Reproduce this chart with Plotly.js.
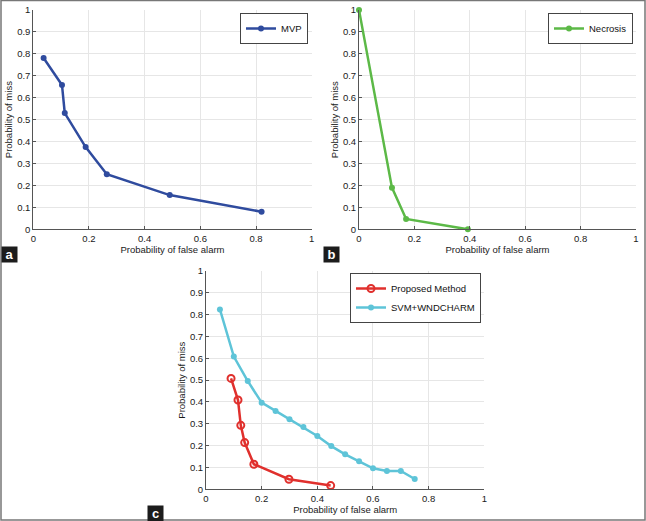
<!DOCTYPE html>
<html>
<head>
<meta charset="utf-8">
<script src="https://cdn.plot.ly/plotly-3.0.1.min.js"></script>
<style>html,body{margin:0;padding:0;background:#fff;}#chart{width:646px;height:521px;}</style>
</head>
<body>
<div id="chart"></div>
<script>
// Panel a: MVP
const mvpFalseAlarm = [0.037, 0.103, 0.113, 0.188, 0.264, 0.49, 0.82];
const mvpMiss       = [0.781, 0.658, 0.530, 0.375, 0.251, 0.156, 0.080];
// Panel b: Necrosis
const necFalseAlarm = [0.0, 0.119, 0.17, 0.393];
const necMiss       = [1.0, 0.19, 0.047, 0.0];
// Panel c: Proposed Method vs SVM+WNDCHARM
const propFalseAlarm = [0.09, 0.115, 0.125, 0.139, 0.172, 0.298, 0.448];
const propMiss       = [0.508, 0.409, 0.293, 0.214, 0.115, 0.046, 0.017];
const svmFalseAlarm  = [0.05, 0.10, 0.15, 0.20, 0.25, 0.30, 0.35, 0.40, 0.45, 0.50, 0.55, 0.60, 0.65, 0.70, 0.75];
const svmMiss        = [0.824, 0.608, 0.496, 0.397, 0.359, 0.321, 0.285, 0.244, 0.198, 0.160, 0.128, 0.096, 0.084, 0.084, 0.047];
const panelLabels = ["a", "b", "c"];
const xTitle = "Probability of false alarm";
const yTitle = "Probability of miss";

const W = 646, H = 521;
function px(x){ return x / W; }
function py(y){ return 1 - y / H; }

const traces = [
  {x: mvpFalseAlarm, y: mvpMiss, name: "MVP", mode: "lines+markers", xaxis: "x", yaxis: "y",
   line: {color: "#2f4b9e", width: 2.5}, marker: {color: "#2f4b9e", size: 6, symbol: "circle"},
   legend: "legend", cliponaxis: false, showlegend: true},
  {x: necFalseAlarm, y: necMiss, name: "Necrosis", mode: "lines+markers", xaxis: "x2", yaxis: "y2",
   line: {color: "#5cb947", width: 2.5}, marker: {color: "#5cb947", size: 6, symbol: "circle"},
   legend: "legend2", cliponaxis: false, showlegend: true},
  {x: propFalseAlarm, y: propMiss, name: "Proposed Method", mode: "lines+markers", xaxis: "x3", yaxis: "y3",
   line: {color: "#e0302d", width: 2.5}, marker: {color: "#e0302d", size: 7, symbol: "circle-open", line: {width: 2, color: "#e0302d"}},
   legend: "legend3", cliponaxis: false, showlegend: true},
  {x: svmFalseAlarm, y: svmMiss, name: "SVM+WNDCHARM", mode: "lines+markers", xaxis: "x3", yaxis: "y3",
   line: {color: "#5ec4d8", width: 2.5}, marker: {color: "#5ec4d8", size: 6, symbol: "circle"},
   legend: "legend3", cliponaxis: false, showlegend: true}
];

const font = {family: "Liberation Sans, Arial, sans-serif", size: 9.5, color: "#1a1a1a"};

function xax(dom, anchor){
  return {domain: dom, anchor: anchor, range: [0, 1], dtick: 0.2, tick0: 0, showgrid: true, gridcolor: "#e6e6e6",
    zeroline: false, showline: true, linecolor: "#555", linewidth: 1, ticks: "inside", ticklen: 3, tickcolor: "#555",
    tickfont: font, title: {text: xTitle, font: font, standoff: 1}};
}
function yax(dom, anchor){
  return {domain: dom, anchor: anchor, range: [0, 1], dtick: 0.1, tick0: 0, showgrid: true, gridcolor: "#e6e6e6",
    zeroline: false, showline: true, linecolor: "#555", linewidth: 1, ticks: "inside", ticklen: 3, tickcolor: "#555",
    tickfont: font, title: {text: yTitle, font: font, standoff: 2}};
}

const legBase = {bgcolor: "#fff", bordercolor: "#444", borderwidth: 1, font: {family: font.family, size: 9.5, color: "#111"},
  xanchor: "right", yanchor: "top", tracegroupgap: 0, itemwidth: 30, visible: true};

const ann = [];
const labelPos = [[9, 254], [331, 254], [155, 513]];
panelLabels.forEach((t, i) => {
  ann.push({text: "<b>" + t + "</b>", xref: "paper", yref: "paper", x: px(labelPos[i][0]), y: py(labelPos[i][1]),
    xanchor: "center", yanchor: "middle", showarrow: false, bgcolor: "#1c1c1c",
    font: {family: font.family, size: 13, color: "#fff"}, borderpad: 1, width: 13, height: 13});
});

const layout = {
  width: W, height: H,
  margin: {l: 0, r: 0, t: 0, b: 0},
  paper_bgcolor: "#fff", plot_bgcolor: "#fff",
  font: font,
  showlegend: true,
  xaxis: xax([px(33.3), px(311.7)], "y"),
  yaxis: yax([py(229.3), py(10)], "x"),
  xaxis2: xax([px(359), px(636)], "y2"),
  yaxis2: yax([py(229.3), py(10)], "x2"),
  xaxis3: xax([px(206), px(484.3)], "y3"),
  yaxis3: yax([py(489.3), py(271)], "x3"),
  legend: Object.assign({}, legBase, {x: px(308), y: py(13)}),
  legend2: Object.assign({}, legBase, {x: px(633), y: py(13)}),
  legend3: Object.assign({}, legBase, {x: px(481), y: py(273)}),
  annotations: ann,
  shapes: [
    {type: "rect", xref: "paper", yref: "paper", x0: px(1), x1: px(645), y0: py(520), y1: py(0.5),
     line: {color: "#777", width: 1.5}}
  ]
};

Plotly.newPlot("chart", traces, layout, {displayModeBar: false, staticPlot: true});
</script>
</body>
</html>
